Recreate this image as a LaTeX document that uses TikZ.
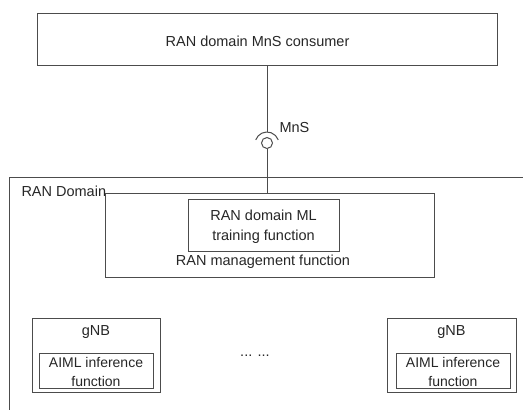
\documentclass[tikz,border=0pt]{standalone}
\usepackage{fontspec}
\setmainfont{Liberation Sans}
\usetikzlibrary{positioning}

\tikzset{
  box/.style={draw=black!70, line width=1pt, inner sep=0pt},
  lbl/.style={font={\fontsize{14.5}{20}\selectfont}, text=black!85, align=center, inner sep=0pt},
}

\begin{document}
\begin{tikzpicture}[x=1pt, y=-1pt, line width=1pt]
        \useasboundingbox (0,0) rectangle (523,410);

        % consumer on top
        \node[box, minimum width=460pt, minimum height=52pt] (consumer) at (267,39) {};
        \node[lbl] (consumerlbl) at (257.5,41) {RAN domain MnS consumer};

        % MnS socket and ball
        \coordinate (sock) at (267,132);
        \node[circle, draw=black!70, minimum size=11pt, inner sep=0pt] (ball) at (267,143) {};
        \draw[black!70] (consumer.south -| sock) -- (sock);
        \draw[black!70] (267,144) ++(200:12) arc (200:340:12);
        \node[lbl, anchor=west] (mnslbl) at (279,128) {MnS};

        % RAN domain border
        \draw[black!70] (523,177) -- (9,177) -- (9,410);
        \node[lbl, anchor=west] (domainlbl) at (21,191) {RAN Domain};

        % management function
        \node[box, minimum width=329pt, minimum height=84pt] (mgmt) at (269.5,235) {};
        \node[box, minimum width=151pt, minimum height=52pt] (training) at (263.5,225) {};
        \node[lbl] (traininglbl) at (263.5,227) {RAN domain ML\\training function};
        \node[lbl] (mgmtlbl) at (263,262) {RAN management function};
        \draw[black!70] (ball.south) -- (ball.south |- mgmt.north);

        % gNBs
        \node[box, minimum width=128pt, minimum height=74pt] (gnbA) at (96,355) {};
        \node[lbl] (gnbAlbl) at (96,332) {gNB};
        \node[box, minimum width=114pt, minimum height=35pt] (infA) at (96,370.5) {};
        \node[lbl, font={\fontsize{14}{18.5}\selectfont}] (infAlbl) at (96,372) {AIML inference\\function};

        \node[box, minimum width=129pt, minimum height=74pt] (gnbB) at (451.5,355) {};
        \node[lbl] (gnbBlbl) at (451.5,332) {gNB};
        \node[box, minimum width=114pt, minimum height=35pt] (infB) at (453,370.5) {};
        \node[lbl, font={\fontsize{14}{18.5}\selectfont}] (infBlbl) at (453,372) {AIML inference\\function};

        \node[lbl] (dots) at (255,356) {... ...};
    \end{tikzpicture}
\end{document}
